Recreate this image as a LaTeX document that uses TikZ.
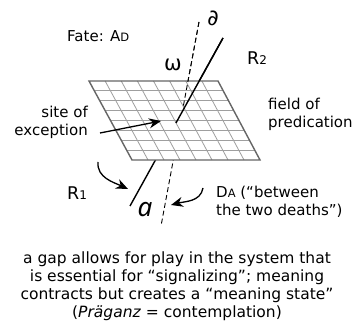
\documentclass[tikz,border=0pt]{standalone}
\usepackage{fontspec}
\setmainfont{DejaVu Sans}
\newfontfamily\afont{Noto Sans}
\usetikzlibrary{arrows.meta,positioning,calc}

\begin{document}
\begin{tikzpicture}[x=1pt,y=1pt,
    lbl/.style={font=\fontsize{15}{18}\selectfont,inner sep=0pt},
    big/.style={font=\fontsize{17.5}{20}\selectfont,inner sep=0pt},
    axis/.style={line width=1.4pt},
    hid/.style={line width=0.9pt,dash pattern=on 5pt off 3pt},
    cell/.style={gray!75,line width=0.8pt},
    arr/.style={-{Stealth[length=12pt,width=10pt]},line width=1.3pt}]
  \useasboundingbox (0,0) rectangle (355,326);
  \coordinate (TL) at (89,245);
  \coordinate (TR) at (218,245);
  \coordinate (BR) at (260,166);
  \coordinate (BL) at (132,166);
  \coordinate (pTop) at (223,288);
  \coordinate (pBot) at (130,120);
  \coordinate (dTop) at (199,304);
  \coordinate (dBot) at (161,100);
  \draw[axis] (pTop) -- (pBot);
  \draw[hid] (dTop) -- (dBot);
  \fill[white] (TL) -- (TR) -- (BR) -- (BL) -- cycle;
  \foreach \i in {1,...,7} {
    \draw[cell] ($(TL)!\i/8!(TR)$) -- ($(BL)!\i/8!(BR)$);
    \draw[cell] ($(TL)!\i/8!(BL)$) -- ($(TR)!\i/8!(BR)$);
  }
  \draw[gray!80!black,line width=1.4pt] (TL) -- (TR) -- (BR) -- (BL) -- cycle;
  \draw[axis] (pTop) -- ($(pTop)!0.506!(pBot)$);
  \draw[hid] (dTop) -- ($(dTop)!0.42!(dBot)$);
  \node[font=\fontsize{22}{22}\selectfont] (partial) at (213,308) {∂};
  \node[font=\fontsize{21}{21}\selectfont] (omega) at (173,261) {ω};
  \node[lbl,anchor=base west] (fate) at (67,284) {Fate: A{\fontsize{11.5}{11.5}\selectfont D}};
  \node[big,anchor=base west] (rtwo) at (247,261) {R{\fontsize{12}{12}\selectfont 2}};
  \node[big,anchor=base west] (rone) at (67,126) {R{\fontsize{12}{12}\selectfont 1}};
  \node[lbl,align=right,anchor=east] (site) at (88,204) {site of\\exception};
  \node[lbl,align=left,anchor=west] (field) at (268,212) {field of\\predication};
  \node[font=\afont\itshape\fontsize{26}{26}\selectfont,inner sep=0pt] (a) at (145,116) {a};
  \node[lbl,align=left,anchor=north west] (da) at (216,140)
    {D{\fontsize{11.5}{11.5}\selectfont A} (“between\\the two deaths”)};
  \node[lbl,font=\fontsize{15.5}{18}\selectfont,align=center] (gap) at (177,40)
    {a gap allows for play in the system that\\
     is essential for “signalizing”; meaning\\
     contracts but creates a “meaning state”\\
     (\textit{Präganz} = contemplation)};
  \coordinate (siteTip) at (161,205);
  \coordinate (oneFrom) at (98,164);
  \coordinate (oneTo) at (128,137);
  \coordinate (daFrom) at (203,138);
  \coordinate (daTo) at (171,121);
  \draw[arr] ([xshift=12pt,yshift=-11pt]site.east) -- (siteTip);
  \draw[arr] (oneFrom) to[out=-95,in=155] (oneTo);
  \draw[arr] (daFrom) to[out=-100,in=15] (daTo);
\end{tikzpicture}
\end{document}
